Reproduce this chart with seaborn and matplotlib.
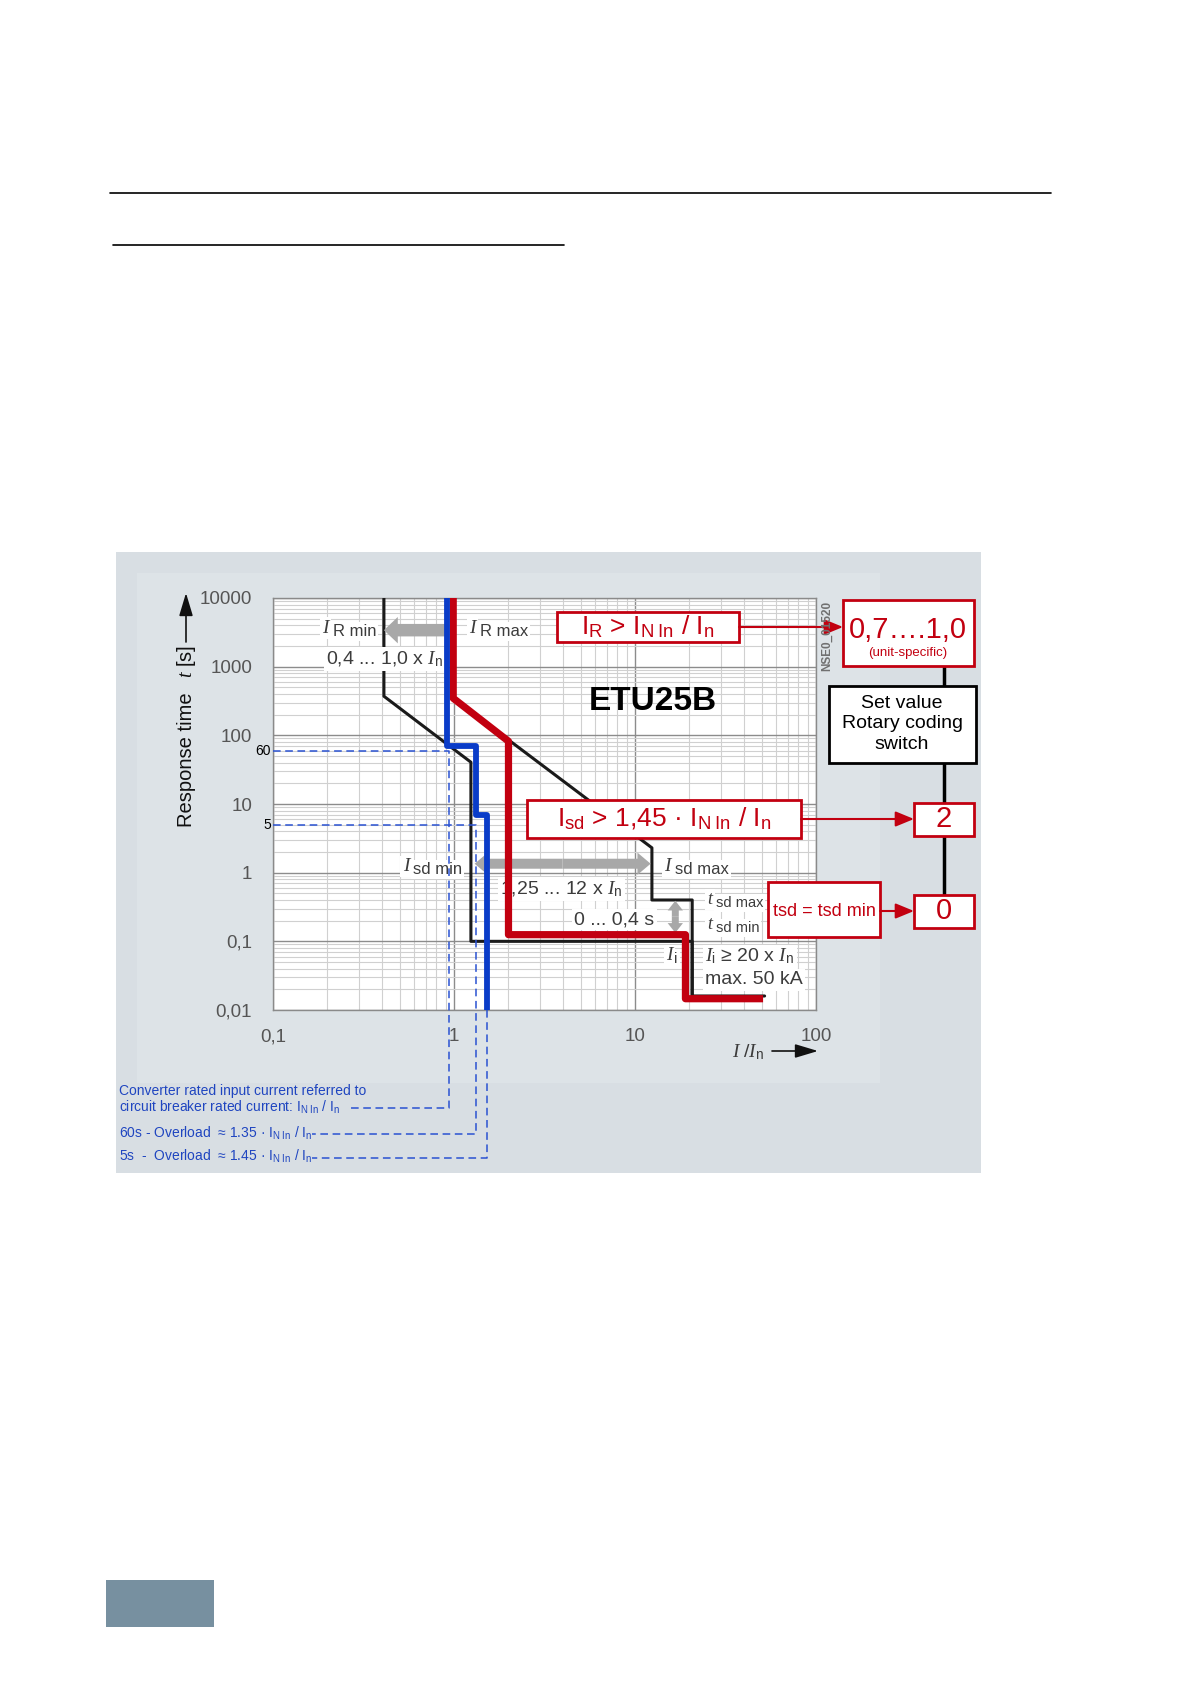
import matplotlib
matplotlib.use("Agg")
import matplotlib.pyplot as plt
import matplotlib.ticker as mticker
from matplotlib.patches import Rectangle
import seaborn as sns
import numpy as np

W, H = 1190, 1684

# tripping characteristic, x = I/In, t = response time in s
env_min_x = [0.41, 0.41, 1.24, 1.24, 20.7, 20.7, 52]
env_min_t = [10000, 371, 40.6, 0.1, 0.1, 0.016, 0.016]
env_max_x = [0.99, 0.99, 12.4, 12.4, 20.7, 20.7]
env_max_t = [10000, 347, 2.3, 0.4, 0.4, 0.016]
red_x = [0.99, 0.99, 2.0, 2.0, 19.0, 19.0, 51]
red_t = [10000, 347, 82, 0.125, 0.125, 0.0146, 0.0146]
blue_x = [0.91, 0.91, 1.32, 1.32, 1.53, 1.53]
blue_t = [10000, 70, 70, 7.0, 7.0, 0.01]

# dashed leader lines (reach below the axes to the notes)
lead_in_x = [0.1, 0.94, 0.94, 0.258]
lead_in_t = [60, 60, 3.7e-4, 3.7e-4]
lead_60_x = [0.1, 1.33, 1.33, 0.165]
lead_60_t = [5, 5, 1.55e-4, 1.55e-4]
lead_5_x = [1.52, 1.52, 0.165]
lead_5_t = [0.01, 7.1e-5, 7.1e-5]

x_ticks = [0.1, 1, 10, 100]
x_labels = ["0,1", "1", "10", "100"]
y_ticks = [0.01, 0.1, 1, 10, 100, 1000, 10000]
y_labels = ["0,01", "0,1", "1", "10", "100", "1000", "10000"]

RED = "#c20010"
BLUE = "#0a3cc8"
DBLUE = "#2a52d2"
TBLUE = "#1f45c0"
GREY_TXT = "#3c3c3c"

sns.set_style("white")
plt.rcParams["font.family"] = ["Liberation Sans", "DejaVu Sans"]
plt.rcParams["mathtext.fontset"] = "custom"
plt.rcParams["mathtext.rm"] = "Liberation Sans"
plt.rcParams["mathtext.sf"] = "Liberation Sans"
plt.rcParams["mathtext.it"] = "Liberation Serif:italic"
plt.rcParams["mathtext.bf"] = "Liberation Sans:bold"

fig = plt.figure(figsize=(W / 100, H / 100), dpi=100)

# page background pieces
bg = fig.add_axes([0, 0, 1, 1], zorder=0)
bg.set_xlim(0, W); bg.set_ylim(H, 0); bg.axis("off")
bg.add_patch(Rectangle((116, 552), 865, 621, fc="#d8dee3", ec="none"))
bg.add_patch(Rectangle((137, 573), 743, 510, fc="#dde3e7", ec="none"))
bg.plot([110, 1051], [193, 193], color="black", lw=1.2)
bg.plot([113, 564], [245, 245], color="black", lw=1.2)
bg.add_patch(Rectangle((106, 1580), 108, 47, fc="#7790a0", ec="none"))

ax = fig.add_axes([273 / W, 1 - 1010 / H, 543 / W, 412 / H], zorder=1)
ax.set_facecolor("white")
ax.set_xscale("log")
ax.set_yscale("log")
ax.set_xlim(0.1, 100)
ax.set_ylim(0.01, 10000)
ax.xaxis.set_major_locator(mticker.FixedLocator(x_ticks))
ax.xaxis.set_major_formatter(mticker.FixedFormatter(x_labels))
ax.yaxis.set_major_locator(mticker.FixedLocator(y_ticks))
ax.yaxis.set_major_formatter(mticker.FixedFormatter(y_labels))
for a in (ax.xaxis, ax.yaxis):
    a.set_minor_locator(mticker.LogLocator(base=10, subs=np.arange(2, 10), numticks=20))
    a.set_minor_formatter(mticker.NullFormatter())
ax.grid(which="major", color="#8c8c8c", lw=1.0, zorder=0)
ax.grid(which="minor", color="#d0d0d0", lw=0.8, zorder=0)
ax.set_axisbelow(True)
ax.tick_params(which="minor", length=0)
ax.tick_params(which="major", length=6, color="#808080", labelcolor="#555555", labelsize=13.5)
ax.tick_params(axis="y", pad=9)
ax.tick_params(axis="x", pad=7)
for s in ax.spines.values():
    s.set_color("#8a8a8a"); s.set_linewidth(1.0)

# curves
sns.lineplot(x=env_min_x, y=env_min_t, sort=False, estimator=None, ax=ax, color="#1a1a1a",
             lw=2.2, zorder=3, legend=False)
sns.lineplot(x=env_max_x, y=env_max_t, sort=False, estimator=None, ax=ax, color="#1a1a1a",
             lw=2.2, zorder=3, legend=False)
sns.lineplot(x=red_x, y=red_t, sort=False, estimator=None, ax=ax, color=RED,
             lw=5.2, zorder=6, legend=False, solid_capstyle="butt")
sns.lineplot(x=blue_x, y=blue_t, sort=False, estimator=None, ax=ax, color=BLUE,
             lw=4.2, zorder=7, legend=False, solid_capstyle="butt")
for lx, lt in ((lead_in_x, lead_in_t), (lead_60_x, lead_60_t), (lead_5_x, lead_5_t)):
    ax.plot(lx, lt, color=DBLUE, lw=1.1, ls=(0, (5, 3)), zorder=8, clip_on=False)

# grey setting arrows
def grey_arrow(x0, y0, x1, y1, tail, hw, hl):
    ax.annotate("", xy=(x1, y1), xytext=(x0, y0),
                arrowprops=dict(arrowstyle=f"simple,head_length={hl},head_width={hw},tail_width={tail}",
                                fc="#a8a8a8", ec="none", mutation_scale=10, shrinkA=0, shrinkB=0),
                zorder=4)

grey_arrow(0.91, 3400, 0.41, 3400, 0.9, 1.9, 1.0)
grey_arrow(3.98, 1.35, 1.3, 1.35, 0.72, 1.6, 0.95)
grey_arrow(3.98, 1.35, 12.2, 1.35, 0.72, 1.6, 0.95)
grey_arrow(16.7, 0.228, 16.7, 0.39, 0.5, 1.1, 0.7)
grey_arrow(16.7, 0.228, 16.7, 0.133, 0.5, 1.1, 0.7)

wb = dict(fc="white", ec="none", pad=1.5)

def lab(x, y, s, ha="left", size=14):
    ax.text(x, y, s, ha=ha, va="center", fontsize=size, color=GREY_TXT, bbox=wb, zorder=5)

def sym(x, y, main, sub, size=14, subsize=12, gap=3):
    # italic serif symbol with a sans index written a little lower
    t = ax.text(x, y, main, ha="left", va="center", fontsize=size, color=GREY_TXT,
                family="Liberation Serif", style="italic", bbox=wb, zorder=5)
    ax.annotate(sub, xy=(1, 0.05), xycoords=t, xytext=(gap, 0), textcoords="offset points",
                ha="left", va="baseline", fontsize=subsize, color=GREY_TXT, bbox=wb, zorder=5)

sym(0.187, 3650, "I", "R min")
lab(0.414, 1290, r"0,4 ... 1,0 x $\mathit{I}_{\mathrm{n}}$", ha="center")
sym(1.21, 3650, "I", "R max")
sym(0.52, 1.22, "I", "sd min")
lab(3.93, 0.58, r"1,25 ... 12 x $\mathit{I}_{\mathrm{n}}$", ha="center")
sym(14.5, 1.22, "I", "sd max")
lab(12.8, 0.206, "0 ... 0,4 s", ha="right")
sym(25.1, 0.41, "t", "sd max", size=13, subsize=10.5, gap=2.5)
sym(25.1, 0.175, "t", "sd min", size=13, subsize=10.5, gap=2.5)
sym(14.9, 0.062, "I", "i", size=14, subsize=11, gap=1)
lab(24.5, 0.060, r"$\mathit{I}_{\mathrm{i}}$ ≥ 20 x $\mathit{I}_{\mathrm{n}}$")
lab(24.5, 0.0274, "max. 50 kA")

ax.text(0.70, 0.748, "ETU25B", transform=ax.transAxes, ha="center", va="center",
        fontsize=24, fontweight="bold", color="black", zorder=9)

yt = ax.get_yaxis_transform()
ax.text(-0.004, 60, "60", transform=yt, ha="right", va="center", fontsize=10, color="black")
ax.text(-0.004, 5, "5", transform=yt, ha="right", va="center", fontsize=10, color="black")

# overlay in page pixels
ov = fig.add_axes([0, 0, 1, 1], zorder=3)
ov.set_xlim(0, W); ov.set_ylim(H, 0); ov.axis("off")
ov.patch.set_alpha(0)

small_head = "-|>,head_length=1.0,head_width=0.3"
ov.text(186, 760, "Response time", rotation=90, ha="center", va="center", fontsize=14.5, color="#111111")
ov.text(186, 661, r"$\mathit{t}$ [s]", rotation=90, ha="center", va="center", fontsize=14.5, color="#111111")
ov.annotate("", xy=(186, 593), xytext=(186, 642),
            arrowprops=dict(arrowstyle=small_head, color="#111111", lw=1.2,
                            mutation_scale=14, shrinkA=0, shrinkB=0))
ov.text(748, 1052, r"$\mathit{I}\ /\mathit{I}_{\mathrm{n}}$", ha="center", va="center", fontsize=14, color=GREY_TXT)
ov.annotate("", xy=(818, 1051), xytext=(772, 1051),
            arrowprops=dict(arrowstyle=small_head, color="#111111", lw=1.2,
                            mutation_scale=14, shrinkA=0, shrinkB=0))
ov.text(827, 636, "NSE0_01520", rotation=90, ha="center", va="center", fontsize=8.5,
        color="#707070", fontweight="bold")

# notes under the chart
ov.text(119, 1091, "Converter rated input current referred to", ha="left", va="center", fontsize=10, color=TBLUE)
ov.text(119, 1107, r"circuit breaker rated current: I$_{\mathrm{N\ In}}$ / I$_{\mathrm{n}}$", ha="left", va="center",
        fontsize=10, color=TBLUE)
ov.text(119, 1133, r"60s - Overload  ≈ 1.35 · I$_{\mathrm{N\ In}}$ / I$_{\mathrm{n}}$", ha="left", va="center",
        fontsize=10, color=TBLUE)
ov.text(119, 1156, r"5s  -  Overload  ≈ 1.45 · I$_{\mathrm{N\ In}}$ / I$_{\mathrm{n}}$", ha="left", va="center",
        fontsize=10, color=TBLUE)

# setting boxes
ov.plot([944, 944], [666, 895], color="black", lw=2.5, zorder=1)

def box(x0, y0, x1, y1, ec=RED):
    ov.add_patch(Rectangle((x0, y0), x1 - x0, y1 - y0, fc="white", ec=ec, lw=2, zorder=2))

def red_arrow(x0, x1, y):
    ov.annotate("", xy=(x1, y), xytext=(x0, y),
                arrowprops=dict(arrowstyle="-|>,head_length=0.8,head_width=0.33", color=RED, lw=1.5,
                                mutation_scale=14, shrinkA=0, shrinkB=0), zorder=2)

box(557, 612, 739, 642)
ov.text(648, 627, r"I$_{\mathrm{R}}$ > I$_{\mathrm{N\ In}}$ / I$_{\mathrm{n}}$", ha="center", va="center",
        fontsize=19, color=RED, zorder=3)
box(843, 600, 974, 666)
ov.text(908, 630, "0,7….1,0", ha="center", va="center", fontsize=21, color=RED, zorder=3)
ov.text(908, 653, "(unit-specific)", ha="center", va="center", fontsize=9.5, color=RED, zorder=3)
box(829, 686, 976, 763, ec="black")
ov.text(902, 724, "Set value\nRotary coding\nswitch", ha="center", va="center", fontsize=14,
        color="black", linespacing=1.25, zorder=3)
box(527, 800, 801, 838)
ov.text(664, 819, r"I$_{\mathrm{sd}}$ > 1,45 · I$_{\mathrm{N\ In}}$ / I$_{\mathrm{n}}$", ha="center", va="center",
        fontsize=19, color=RED, zorder=3)
box(914, 803, 974, 836)
ov.text(944, 819, "2", ha="center", va="center", fontsize=21, color=RED, zorder=3)
box(768, 882, 880, 937)
ov.text(824, 911, "tsd = tsd min", ha="center", va="center", fontsize=13, color=RED, zorder=3)
box(914, 895, 974, 928)
ov.text(944, 911, "0", ha="center", va="center", fontsize=21, color=RED, zorder=3)

red_arrow(739, 843, 627)
red_arrow(801, 914, 819)
red_arrow(880, 914, 911)

fig.savefig("out.png", dpi=100)
